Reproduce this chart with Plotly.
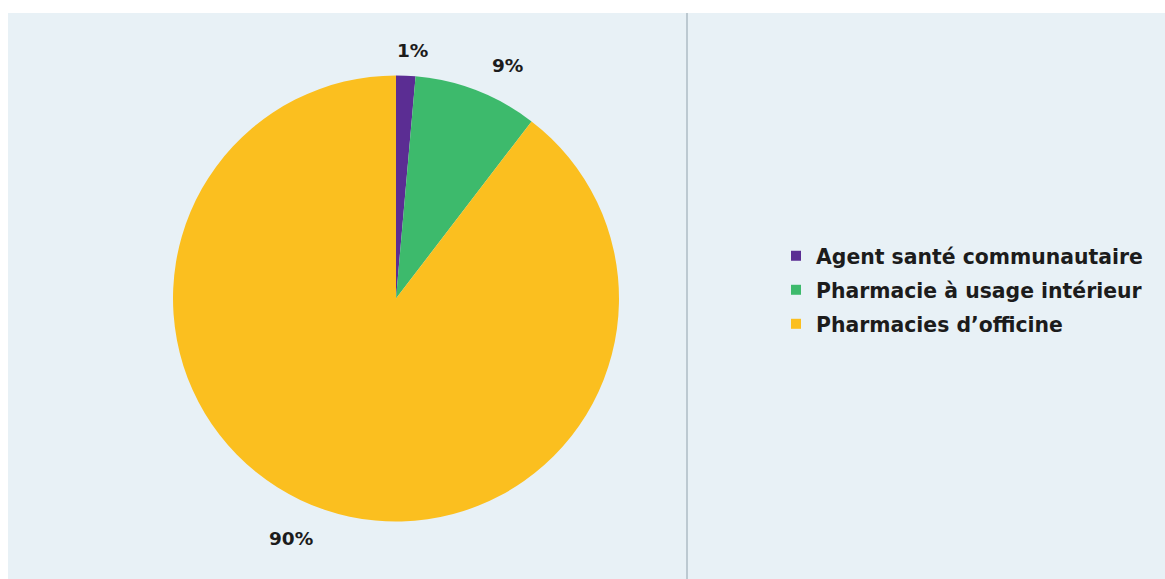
import plotly.graph_objects as go

# Share of distribution points by type
labels = ["Agent santé communautaire", "Pharmacie à usage intérieur", "Pharmacies d’officine"]
values = [1.4, 9.0, 89.6]
colors = ["#5b2d93", "#3dba6c", "#fbbf1f"]

W, H = 1165, 579
FONT = "DejaVu Sans"
TXT = "#1c1c1c"

total = sum(values)
pct_text = [f"{round(v / total * 100)}%" for v in values]

# pie geometry in pixels
cx, cy, r = 396, 298.5, 223

fig = go.Figure()
fig.add_trace(go.Pie(
    labels=labels,
    values=values,
    sort=False,
    direction="clockwise",
    rotation=0,
    marker=dict(colors=colors, line=dict(width=0)),
    textinfo="none",
    hoverinfo="label+percent",
    showlegend=False,
    domain=dict(x=[(cx - r) / W, (cx + r) / W],
                y=[(H - cy - r) / H, (H - cy + r) / H]),
))

# legend entries, one group each so the rows can be spaced apart
for i, (lab, col) in enumerate(zip(labels, colors)):
    fig.add_trace(go.Scatter(
        x=[None], y=[None], mode="markers", name=lab,
        legendgroup=f"g{i}",
        marker=dict(symbol="square", size=10, color=col),
    ))

# percentage labels around the pie (text centres, pixels)
label_pos = [(412, 50), (507, 66), (291, 538)]
for txt, (px, py) in zip(pct_text, label_pos):
    fig.add_annotation(x=px / W, y=1 - py / H, xref="paper", yref="paper",
                       xanchor="center", yanchor="middle",
                       text=f"<b>{txt}</b>", showarrow=False,
                       font=dict(family=FONT, size=18.5, color=TXT))

# page background and the centre fold line
fig.add_shape(type="rect", xref="paper", yref="paper",
              x0=8 / W, x1=1, y0=0, y1=1 - 13 / H,
              fillcolor="#e8f1f6", line_width=0, layer="below")
fig.add_shape(type="line", xref="paper", yref="paper",
              x0=687 / W, x1=687 / W, y0=0, y1=1 - 13 / H,
              line=dict(color="#aebbc4", width=1.5), layer="below")

fig.update_layout(
    width=W, height=H,
    margin=dict(l=0, r=0, t=0, b=0),
    paper_bgcolor="white",
    plot_bgcolor="rgba(0,0,0,0)",
    xaxis=dict(visible=False),
    yaxis=dict(visible=False),
    showlegend=True,
    legend=dict(
        x=776 / W, y=1 - 236 / H, xanchor="left", yanchor="top",
        bgcolor="rgba(0,0,0,0)",
        font=dict(family=FONT, size=20.4, color=TXT, weight="bold"),
        tracegroupgap=4.5,
        itemclick=False, itemdoubleclick=False,
    ),
)

fig.write_html("out.html")
